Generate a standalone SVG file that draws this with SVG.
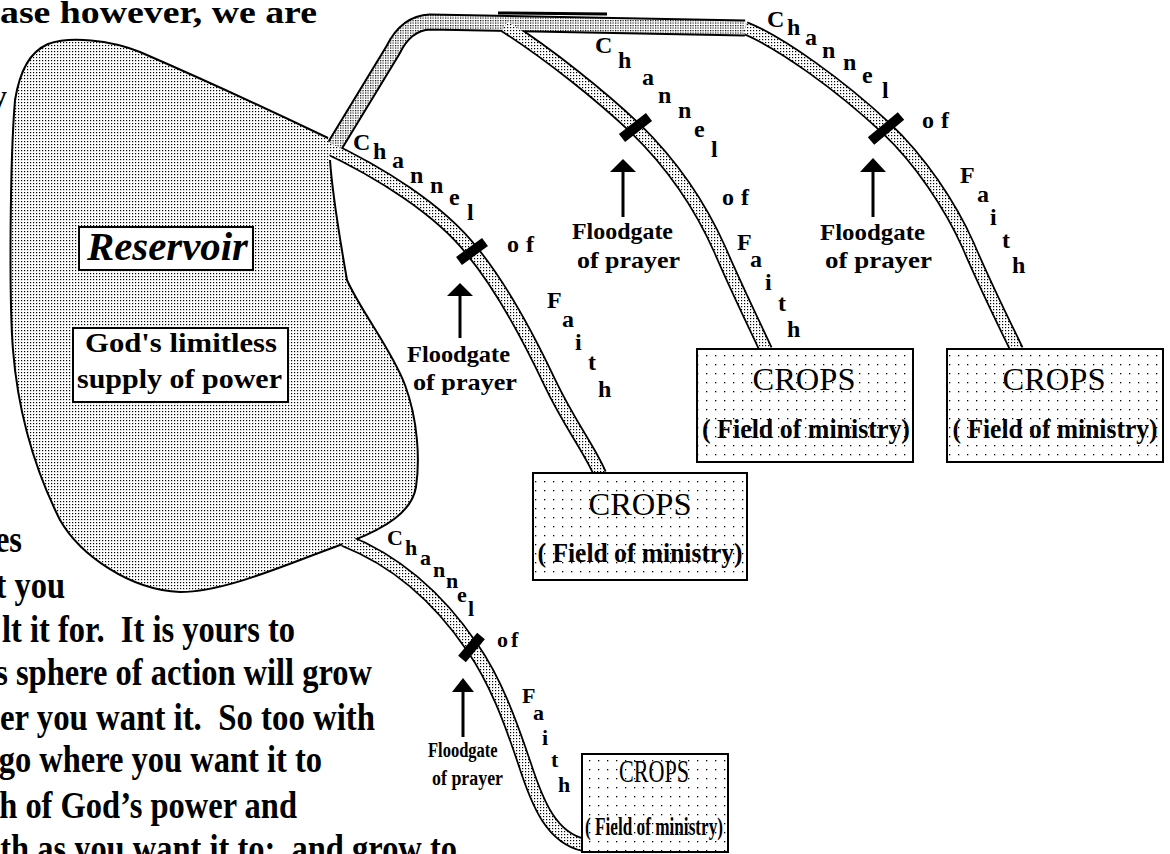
<svg xmlns="http://www.w3.org/2000/svg" width="1170" height="854" viewBox="0 0 1170 854">
<style>
.para{font-family:'Liberation Serif','Times New Roman',serif;font-weight:bold;font-size:32.5px;fill:#000}
.ch{font-family:'Liberation Serif','Times New Roman',serif;font-weight:bold;font-size:24px;fill:#000}
.ch4{font-family:'Liberation Serif','Times New Roman',serif;font-weight:bold;font-size:22px;fill:#000}
.lbl{font-family:'Liberation Serif','Times New Roman',serif;font-weight:bold;font-size:24px;fill:#000}
.crops{font-family:'Liberation Serif','Times New Roman',serif;font-size:32.5px;fill:#000}
.field{font-family:'Liberation Serif','Times New Roman',serif;font-weight:bold;font-size:27px;fill:#000}
.box{fill:url(#sparse);stroke:#000;stroke-width:2}
.wbox{fill:#fff;stroke:#000;stroke-width:2}
.outer{fill:none;stroke:#000;stroke-width:14;stroke-linejoin:round}
.inner{fill:none;stroke:url(#dense);stroke-width:10.5;stroke-linejoin:round}
.gate{stroke:#000;stroke-width:10}
.shaft{stroke:#000;stroke-width:3}
</style>
<defs>
<pattern id="dense" width="3" height="3" patternUnits="userSpaceOnUse"><rect width="3" height="3" fill="#fff"/><rect width="1.2" height="1.2" fill="#000"/></pattern>
<pattern id="dense2" width="2.5" height="2.5" patternUnits="userSpaceOnUse"><rect width="2.5" height="2.5" fill="#fff"/><rect width="1.2" height="1.2" fill="#000"/></pattern>
<pattern id="sparse" width="9" height="9" patternUnits="userSpaceOnUse"><rect width="9" height="9" fill="#fff"/><rect x="4" y="4" width="1.3" height="1.3" fill="#000"/></pattern>
</defs>
<rect width="1170" height="854" fill="#fff"/>

<g id="paragraph">
<text class="para" x="0" y="23" font-size="37" textLength="317" lengthAdjust="spacingAndGlyphs">ase however, we are</text>
<text class="para" x="7" y="107" text-anchor="end" font-weight="normal">y</text>
<text class="para" transform="translate(22,552) scale(1,1.14)" text-anchor="end">es</text>
<text class="para" transform="translate(65,598) scale(1,1.14)" text-anchor="end">t you</text>
<text class="para" transform="translate(295,642) scale(1,1.14)" text-anchor="end" xml:space="preserve">lt it for.  It is yours to</text>
<text class="para" transform="translate(372,685) scale(1,1.14)" text-anchor="end">s sphere of action will grow</text>
<text class="para" transform="translate(0,730) scale(1,1.14)" textLength="375" lengthAdjust="spacingAndGlyphs" xml:space="preserve">er you want it.  So too with</text>
<text class="para" transform="translate(322,772) scale(1,1.14)" text-anchor="end">go where you want it to</text>
<text class="para" transform="translate(297,818) scale(1,1.14)" text-anchor="end">h of God’s power and</text>
<text class="para" transform="translate(457,861) scale(1,1.14)" text-anchor="end" xml:space="preserve">th as you want it to;  and grow to</text>
</g>

<g id="connectors-outer">
<path class="outer" style="stroke-width:17" d="M331,152 L393,50 Q406,23 430,22 L745,28"/>
<path class="outer" d="M745,28 C780,42 840,85 886,128 C920,160 950,205 968,245 C985,285 1000,315 1017,350"/>
<path class="outer" d="M505,26 C550,55 600,95 635,128 C670,162 700,205 720,250 C735,285 752,320 766,350"/>
<path class="outer" d="M322,145 C380,172 440,210 472,251 C500,285 525,330 550,383 C570,425 590,450 600,474"/>
<path class="outer" d="M344,540 C400,562 440,600 472,647 C495,680 510,720 525,765 C538,805 552,838 584,845"/>
</g>

<g id="reservoir">
<path fill="url(#dense)" stroke="none" d="M328,138 C280,115 200,78 140,52 C110,40 70,36 48,44 C30,52 20,70 15,100 C10,160 9,300 13,350 C17,400 30,460 60,520 C80,555 130,590 180,592 C230,592 300,558 352,541 C385,528 412,512 416,487 C420,460 418,420 405,385 C392,350 360,310 347,280 C340,240 332,190 330,160 Z"/>
<path fill="none" stroke="#000" stroke-width="2" d="M328,138 C280,115 200,78 140,52 C110,40 70,36 48,44 C30,52 20,70 15,100 C10,160 9,300 13,350 C17,400 30,460 60,520 C80,555 130,590 180,592 C230,592 300,558 352,541 C385,528 412,512 416,487 C420,460 418,420 405,385 C392,350 360,310 347,280 C340,240 332,190 330,160"/>
</g>

<g id="connectors">
<path class="inner" style="stroke-width:13;stroke:url(#dense2)" d="M331,152 L393,50 Q406,23 430,22 L745,28"/>
<path class="inner" d="M745,28 C780,42 840,85 886,128 C920,160 950,205 968,245 C985,285 1000,315 1017,350"/>
<path class="inner" d="M505,26 C550,55 600,95 635,128 C670,162 700,205 720,250 C735,285 752,320 766,350"/>
<path class="inner" d="M322,145 C380,172 440,210 472,251 C500,285 525,330 550,383 C570,425 590,450 600,474"/>
<path class="inner" d="M344,540 C400,562 440,600 472,647 C495,680 510,720 525,765 C538,805 552,838 584,845"/>
<line x1="498" y1="13" x2="607" y2="14" stroke="#000" stroke-width="3"/>
</g>

<g id="gates">
<line class="gate" x1="871" y1="141" x2="901" y2="116"/>
<line class="gate" x1="622" y1="138" x2="649" y2="117"/>
<line class="gate" x1="459" y1="261" x2="485" y2="242"/>
<line class="gate" x1="462" y1="659" x2="481" y2="636"/>
</g>

<g id="reservoir-label">
<rect class="wbox" x="79" y="227" width="174" height="43"/>
<text x="87" y="260" font-family="'Liberation Serif','Times New Roman',serif" font-weight="bold" font-style="italic" font-size="40" textLength="161" lengthAdjust="spacingAndGlyphs">Reservoir</text>
</g>
<g id="supply-label">
<rect class="wbox" x="73" y="328" width="215" height="74"/>
<text class="field" x="85" y="352" font-size="28" textLength="192" lengthAdjust="spacingAndGlyphs">God's limitless</text>
<text class="field" x="77" y="388" font-size="28" textLength="205" lengthAdjust="spacingAndGlyphs">supply of power</text>
</g>

<g id="crops-1">
<rect class="box" x="947" y="349" width="216" height="113"/>
<text class="crops" x="1054" y="390" text-anchor="middle">CROPS</text>
<text class="field" x="1055" y="438" text-anchor="middle" textLength="205" lengthAdjust="spacingAndGlyphs">( Field of ministry)</text>
</g>
<g id="crops-2">
<rect class="box" x="697" y="349" width="216" height="113"/>
<text class="crops" x="804" y="390" text-anchor="middle">CROPS</text>
<text class="field" x="806" y="438" text-anchor="middle" textLength="208" lengthAdjust="spacingAndGlyphs">( Field of ministry)</text>
</g>
<g id="crops-3">
<rect class="box" x="533" y="473" width="214" height="107"/>
<text class="crops" x="640" y="515" text-anchor="middle" font-size="33">CROPS</text>
<text class="field" x="640" y="562" text-anchor="middle" textLength="205" lengthAdjust="spacingAndGlyphs">( Field of ministry)</text>
</g>
<g id="crops-4">
<rect class="box" x="582" y="754" width="146" height="98"/>
<text class="crops" transform="translate(654,782) scale(0.68,0.95)" text-anchor="middle" font-size="32">CROPS</text>
<text class="field" transform="translate(654,835) scale(0.68,0.95)" text-anchor="middle" textLength="203" lengthAdjust="spacingAndGlyphs">( Field of ministry)</text>
</g>

<g id="floodgate-1">
<line class="shaft" x1="873" y1="170" x2="873" y2="217"/>
<polygon points="873,158 860,172 886,172"/>
<text class="lbl" x="820" y="240" textLength="105" lengthAdjust="spacingAndGlyphs">Floodgate</text>
<text class="lbl" x="825" y="268" textLength="107" lengthAdjust="spacingAndGlyphs">of prayer</text>
</g>
<g id="floodgate-2">
<line class="shaft" x1="623" y1="170" x2="623" y2="217"/>
<polygon points="623,159 610,172 636,172"/>
<text class="lbl" x="572" y="239" textLength="101" lengthAdjust="spacingAndGlyphs">Floodgate</text>
<text class="lbl" x="577" y="268" textLength="103" lengthAdjust="spacingAndGlyphs">of prayer</text>
</g>
<g id="floodgate-3">
<line class="shaft" x1="460" y1="294" x2="460" y2="338"/>
<polygon points="460,283 447,296 473,296"/>
<text class="lbl" x="407" y="362" textLength="103" lengthAdjust="spacingAndGlyphs">Floodgate</text>
<text class="lbl" x="413" y="390" textLength="104" lengthAdjust="spacingAndGlyphs">of prayer</text>
</g>
<g id="floodgate-4">
<line class="shaft" x1="463" y1="690" x2="463" y2="737"/>
<polygon points="463,678 452,692 474,692"/>
<text class="lbl" transform="translate(428,757) scale(0.69,0.9)" textLength="101" lengthAdjust="spacingAndGlyphs">Floodgate</text>
<text class="lbl" transform="translate(432,785) scale(0.69,0.9)" textLength="103" lengthAdjust="spacingAndGlyphs">of prayer</text>
</g>

<g id="channel-label-1">
<text class="ch" x="767" y="27">C</text><text class="ch" x="787" y="35">h</text><text class="ch" x="805" y="45">a</text><text class="ch" x="822" y="58">n</text><text class="ch" x="843" y="70">n</text><text class="ch" x="862" y="83">e</text><text class="ch" x="882" y="98">l</text>
<text class="ch" x="922" y="128" letter-spacing="7">of</text>
<text class="ch" x="960" y="183">F</text><text class="ch" x="977" y="202">a</text><text class="ch" x="990" y="225">i</text><text class="ch" x="1002" y="248">t</text><text class="ch" x="1012" y="273">h</text>
</g>
<g id="channel-label-2">
<text class="ch" x="595" y="53">C</text><text class="ch" x="618" y="68">h</text><text class="ch" x="642" y="85">a</text><text class="ch" x="658" y="103">n</text><text class="ch" x="678" y="118">n</text><text class="ch" x="694" y="137">e</text><text class="ch" x="711" y="157">l</text>
<text class="ch" x="722" y="205" letter-spacing="7">of</text>
<text class="ch" x="737" y="250">F</text><text class="ch" x="750" y="267">a</text><text class="ch" x="765" y="290">i</text><text class="ch" x="778" y="311">t</text><text class="ch" x="787" y="337">h</text>
</g>
<g id="channel-label-3">
<text class="ch" x="353" y="150">C</text><text class="ch" x="373" y="159">h</text><text class="ch" x="392" y="168">a</text><text class="ch" x="410" y="183">n</text><text class="ch" x="430" y="193">n</text><text class="ch" x="449" y="205">e</text><text class="ch" x="467" y="220">l</text>
<text class="ch" x="507" y="252" letter-spacing="7">of</text>
<text class="ch" x="547" y="308">F</text><text class="ch" x="562" y="327">a</text><text class="ch" x="575" y="350">i</text><text class="ch" x="588" y="370">t</text><text class="ch" x="598" y="397">h</text>
</g>
<g id="channel-label-4">
<text class="ch4" x="387" y="545">C</text><text class="ch4" x="405" y="555">h</text><text class="ch4" x="420" y="565">a</text><text class="ch4" x="433" y="577">n</text><text class="ch4" x="446" y="588">n</text><text class="ch4" x="457" y="602">e</text><text class="ch4" x="468" y="616">l</text>
<text class="ch4" x="497" y="647" letter-spacing="3">of</text>
<text class="ch4" x="522" y="703">F</text><text class="ch4" x="533" y="720">a</text><text class="ch4" x="542" y="745">i</text><text class="ch4" x="551" y="767">t</text><text class="ch4" x="558" y="792">h</text>
</g>
</svg>
